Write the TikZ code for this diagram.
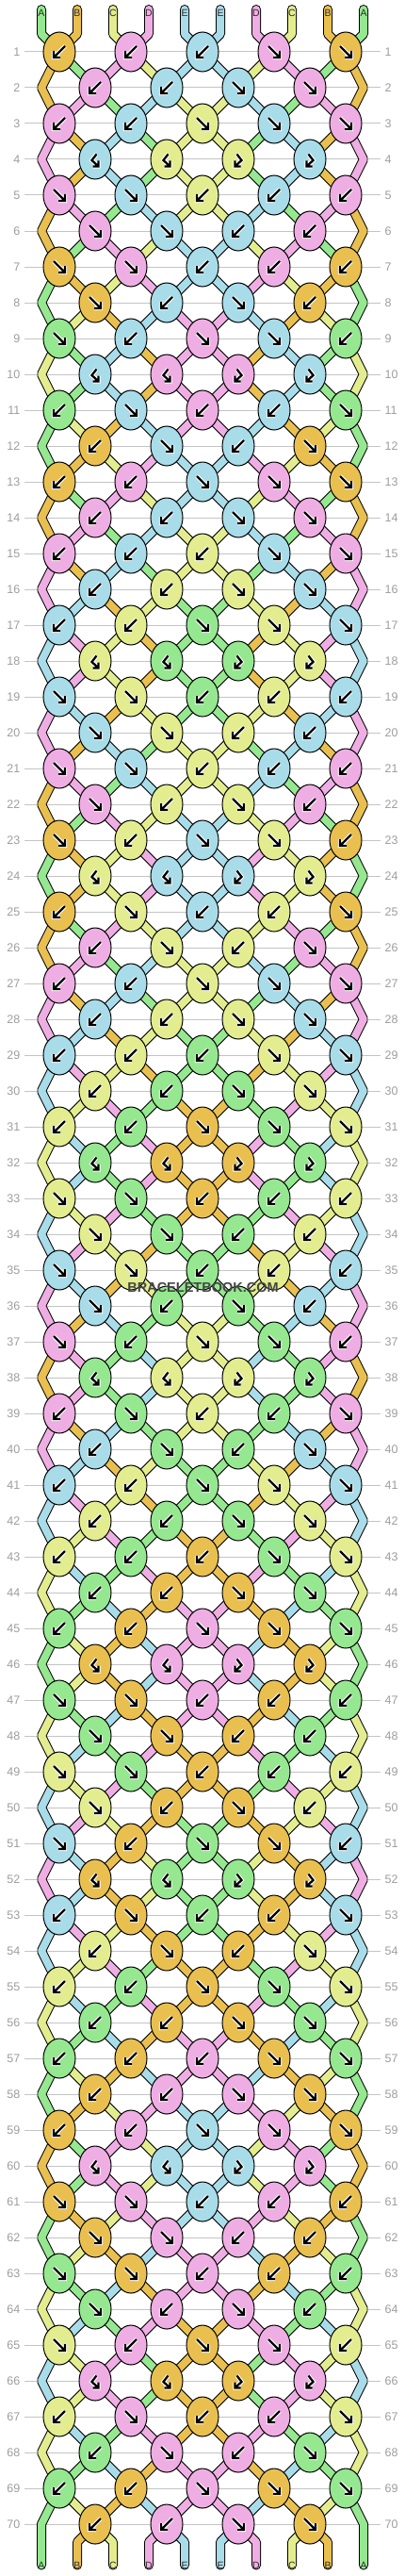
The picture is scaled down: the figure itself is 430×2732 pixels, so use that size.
\documentclass[tikz,border=0pt]{standalone}
\usepackage{fontspec}
\setmainfont{Liberation Sans}
\usetikzlibrary{shapes.geometric}
\definecolor{cG}{HTML}{95E890}
\definecolor{cO}{HTML}{E9C050}
\definecolor{cY}{HTML}{E3ED8F}
\definecolor{cP}{HTML}{EFAEE3}
\definecolor{cL}{HTML}{A9DCE9}
\definecolor{gridgray}{HTML}{C4C4C4}
\definecolor{numgray}{HTML}{9E9E9E}
\definecolor{labgray}{HTML}{2A2A2A}
\definecolor{wmgray}{HTML}{454545}
% glyphs (local coordinates, y downward)
\def\glB{(6,-6) -- (-6,6) (-6,-1) -- (-6,6) -- (1,6)}
\def\glF{(-6,-6) -- (6,6) (6,-1) -- (6,6) -- (-1,6)}
\def\glb{(1.5,-5.5) -- (-3.5,1) -- (3.5,7.5) (3.5,1.5) -- (3.5,7.5) -- (-2.5,7.5)}
\def\glf{(-1.5,-5.5) -- (3.5,1) -- (-3.5,7.5) (-3.5,1.5) -- (-3.5,7.5) -- (2.5,7.5)}
\def\mirB{F}\def\mirF{B}\def\mirb{f}\def\mirf{b}
% initial state
\expandafter\def\csname st0-0\endcsname{G}
\expandafter\def\csname st0-1\endcsname{O}
\expandafter\def\csname st0-2\endcsname{Y}
\expandafter\def\csname st0-3\endcsname{P}
\expandafter\def\csname st0-4\endcsname{L}
% row / state after row (slots 0-4) / knot0 colour,type / knot1 colour,type / centre colour,type
\def\braceletdata{%
1/O/G/P/Y/L/O/B/P/B/L/B,%
2/O/P/G/L/Y/P/B/L/B/N/N,%
3/P/O/L/G/Y/P/B/L/B/Y/F,%
4/P/O/L/G/Y/L/b/Y/b/N/N,%
5/O/P/G/L/Y/P/F/L/F/Y/B,%
6/O/G/P/Y/L/P/F/L/F/N/N,%
7/G/O/Y/P/L/O/F/P/F/L/B,%
8/G/Y/O/L/P/O/F/L/B/N/N,%
9/Y/G/L/O/P/G/F/L/B/P/F,%
10/Y/G/L/O/P/L/b/P/b/N/N,%
11/G/Y/O/L/P/G/B/L/F/P/B,%
12/G/O/Y/P/L/O/B/L/F/N/N,%
13/O/G/P/Y/L/O/B/P/B/L/F,%
14/O/P/G/L/Y/P/B/L/B/N/N,%
15/P/O/L/G/Y/P/B/L/B/Y/B,%
16/P/L/O/Y/G/L/B/Y/B/N/N,%
17/L/P/Y/O/G/L/B/Y/B/G/F,%
18/L/P/Y/O/G/Y/b/G/b/N/N,%
19/P/L/O/Y/G/L/F/Y/F/G/B,%
20/P/O/L/G/Y/L/F/Y/F/N/N,%
21/O/P/G/L/Y/P/F/L/F/Y/B,%
22/O/G/P/Y/L/P/F/Y/B/N/N,%
23/G/O/Y/P/L/O/F/Y/B/L/F,%
24/G/O/Y/P/L/Y/b/L/b/N/N,%
25/O/G/P/Y/L/O/B/Y/F/L/B,%
26/O/P/G/L/Y/P/B/Y/F/N/N,%
27/P/O/L/G/Y/P/B/L/B/Y/F,%
28/P/L/O/Y/G/L/B/Y/B/N/N,%
29/L/P/Y/O/G/L/B/Y/B/G/B,%
30/L/Y/P/G/O/Y/B/G/B/N/N,%
31/Y/L/G/P/O/Y/B/G/B/O/F,%
32/Y/L/G/P/O/G/b/O/b/N/N,%
33/L/Y/P/G/O/Y/F/G/F/O/B,%
34/L/P/Y/O/G/Y/F/G/F/N/N,%
35/P/L/O/Y/G/L/F/Y/F/G/B,%
36/P/O/L/G/Y/L/F/G/B/N/N,%
37/O/P/G/L/Y/P/F/G/B/Y/F,%
38/O/P/G/L/Y/G/b/Y/b/N/N,%
39/P/O/L/G/Y/P/B/G/F/Y/B,%
40/P/L/O/Y/G/L/B/G/F/N/N,%
41/L/P/Y/O/G/L/B/Y/B/G/F,%
42/L/Y/P/G/O/Y/B/G/B/N/N,%
43/Y/L/G/P/O/Y/B/G/B/O/B,%
44/Y/G/L/O/P/G/B/O/B/N/N,%
45/G/Y/O/L/P/G/B/O/B/P/F,%
46/G/Y/O/L/P/O/b/P/b/N/N,%
47/Y/G/L/O/P/G/F/O/F/P/B,%
48/Y/L/G/P/O/G/F/O/F/N/N,%
49/L/Y/P/G/O/Y/F/G/F/O/B,%
50/L/P/Y/O/G/Y/F/O/B/N/N,%
51/P/L/O/Y/G/L/F/O/B/G/F,%
52/P/L/O/Y/G/O/b/G/b/N/N,%
53/L/P/Y/O/G/L/B/O/F/G/B,%
54/L/Y/P/G/O/Y/B/O/F/N/N,%
55/Y/L/G/P/O/Y/B/G/B/O/F,%
56/Y/G/L/O/P/G/B/O/B/N/N,%
57/G/Y/O/L/P/G/B/O/B/P/B,%
58/G/O/Y/P/L/O/B/P/B/N/N,%
59/O/G/P/Y/L/O/B/P/B/L/F,%
60/O/G/P/Y/L/P/b/L/b/N/N,%
61/G/O/Y/P/L/O/F/P/F/L/B,%
62/G/Y/O/L/P/O/F/P/F/N/N,%
63/Y/G/L/O/P/G/F/O/F/P/B,%
64/Y/L/G/P/O/G/F/P/B/N/N,%
65/L/Y/P/G/O/Y/F/P/B/O/F,%
66/L/Y/P/G/O/P/b/O/b/N/N,%
67/Y/L/G/P/O/Y/B/P/F/O/B,%
68/Y/G/L/O/P/G/B/P/F/N/N,%
69/G/Y/O/L/P/G/B/O/B/P/F,%
70/G/O/Y/P/L/O/B/P/B/N/N}
\newcommand\knot[3]{%
  \node[knotnode, fill=c#2] (n#1) at (#1) {};
  \expandafter\let\expandafter\curgl\csname gl#3\endcsname
  \begin{scope}[shift={(#1)}]
    \draw[white, line width=4.4pt, line cap=square] \curgl;
    \draw[black, line width=2.3pt] \curgl;
  \end{scope}}
\begin{document}
\begin{tikzpicture}[x=1pt, y=-1pt,
  strand/.style={draw=black, line width=1pt, double distance=8pt, line join=bevel},
  knotnode/.style={ellipse, draw=black, line width=1pt, minimum width=34pt, minimum height=42pt, inner sep=0pt},
  numlab/.style={font=\fontsize{12.5}{14}\selectfont, text=numgray, inner sep=0pt},
  strlab/.style={font=\fontsize{10.5}{12}\selectfont, text=labgray, inner sep=0pt}]
\useasboundingbox (0,0) rectangle (430,2732);
\fill[white] (0,0) rectangle (430,2732);
% store states
\foreach \xr/\qa/\qb/\qc/\qd/\qe/\ka/\ta/\kb/\tb/\kc/\tc in \braceletdata {%
  \expandafter\xdef\csname st\xr-0\endcsname{\qa}%
  \expandafter\xdef\csname st\xr-1\endcsname{\qb}%
  \expandafter\xdef\csname st\xr-2\endcsname{\qc}%
  \expandafter\xdef\csname st\xr-3\endcsname{\qd}%
  \expandafter\xdef\csname st\xr-4\endcsname{\qe}%
}
% grid lines and row numbers, slot coordinates
\foreach \r in {1,...,70}{%
  \pgfmathsetmacro\yy{55+38*(\r-1)}%
  \draw[gridgray, line width=1pt] (26,\yy) -- (404,\yy);
  \node[numlab, anchor=east] (ln\r) at (21.5,\yy) {\r};
  \node[numlab, anchor=west] (rn\r) at (408.5,\yy) {\r};
  \foreach \s in {0,...,9}{%
    \ifodd\r\relax
      \pgfmathsetmacro\xx{63+76*floor(\s/2)}%
    \else
      \ifnum\s=0 \def\xx{44}\else\ifnum\s=9 \def\xx{386}\else
        \pgfmathsetmacro\xx{101+76*floor((\s-1)/2)}\fi\fi
    \fi
    \coordinate (p\r-\s) at (\xx,\yy);
  }%
}
% top and bottom end coordinates
\foreach \s in {0,...,9}{%
  \pgfmathsetmacro\xx{44+38*\s}%
  \coordinate (t\s) at (\xx,10);
  \coordinate (tb\s) at (\xx,36);
  \coordinate (bb\s) at (\xx,2696);
  \coordinate (b\s) at (\xx,2720.5);
}
% top strands
\foreach \s in {0,...,9}{%
  \pgfmathtruncatemacro\ms{\s<5 ? \s : 9-\s}%
  \edef\col{c\csname st0-\ms\endcsname}%
  \draw[strand, line cap=round, double=\col] (t\s) -- (tb\s) -- (p1-\s);
}
% inner strands
\foreach \r in {1,...,69}{%
  \pgfmathtruncatemacro\rn{\r+1}%
  \foreach \s in {1,...,8}{%
    \pgfmathtruncatemacro\ms{\s<5 ? \s : 9-\s}%
    \edef\col{c\csname st\r-\ms\endcsname}%
    \draw[strand, double=\col] (p\r-\s) -- (p\rn-\s);
  }%
}
% edge strands
\foreach \r in {1,3,...,67}{%
  \pgfmathtruncatemacro\rn{\r+1}%
  \pgfmathtruncatemacro\rnn{\r+2}%
  \edef\col{c\csname st\r-0\endcsname}%
  \draw[strand, double=\col] (p\r-0) -- (p\rn-0) -- (p\rnn-0);
  \draw[strand, double=\col] (p\r-9) -- (p\rn-9) -- (p\rnn-9);
}
\edef\col{c\csname st69-0\endcsname}%
\draw[strand, line cap=round, double=\col] (p69-0) -- (p70-0) -- (b0);
\draw[strand, line cap=round, double=\col] (p69-9) -- (p70-9) -- (b9);
% bottom strands
\foreach \s in {1,...,8}{%
  \pgfmathtruncatemacro\ms{\s<5 ? \s : 9-\s}%
  \edef\col{c\csname st70-\ms\endcsname}%
  \draw[strand, line cap=round, double=\col] (p70-\s) -- (bb\s) -- (b\s);
}
% knots
\foreach \xr/\qa/\qb/\qc/\qd/\qe/\ka/\ta/\kb/\tb/\kc/\tc in \braceletdata {%
  \ifodd\xr\relax
    \knot{p\xr-0}{\ka}{\ta}
    \knot{p\xr-2}{\kb}{\tb}
    \knot{p\xr-4}{\kc}{\tc}
    \knot{p\xr-7}{\kb}{\csname mir\tb\endcsname}
    \knot{p\xr-9}{\ka}{\csname mir\ta\endcsname}
  \else
    \knot{p\xr-1}{\ka}{\ta}
    \knot{p\xr-3}{\kb}{\tb}
    \knot{p\xr-6}{\kb}{\csname mir\tb\endcsname}
    \knot{p\xr-8}{\ka}{\csname mir\ta\endcsname}
  \fi
}
% string letters
\foreach \s/\lab in {0/A,1/B,2/C,3/D,4/E,5/E,6/D,7/C,8/B,9/A}{%
  \pgfmathsetmacro\xx{44+38*\s}%
  \node[strlab] (lt\s) at (\xx,13.5) {\lab};
  \node[strlab] (lb\s) at (\xx,2720.5) {\lab};
}
% watermark
\node[font=\bfseries\fontsize{14.5}{16}\selectfont, text=wmgray, inner sep=0pt] (wm) at (215.5,1365) {BRACELETBOOK.COM};
\end{tikzpicture}
\end{document}
